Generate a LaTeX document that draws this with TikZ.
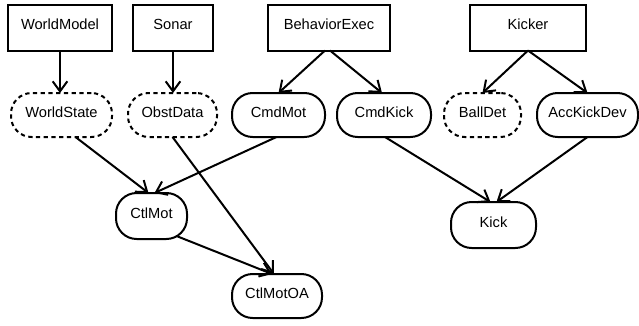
\documentclass[tikz,border=0pt]{standalone}
\usepackage{fontspec}
\setmainfont{Liberation Sans}
\usetikzlibrary{arrows.meta,calc}
\begin{document}
\begin{tikzpicture}[x=0.75pt,y=-0.75pt,
  base/.style={draw,line width=1.5pt,inner sep=0pt,outer sep=0pt,
    font=\fontsize{11}{13}\selectfont,text height=8pt,text depth=5pt},
  boxnode/.style={base,rectangle,minimum height=34.5pt},
  roundnode/.style={base,rectangle,rounded corners=15.5pt,minimum height=33pt},
  dashnode/.style={roundnode,dash pattern=on 3.2pt off 2.6pt},
  arr/.style={line width=1.5pt,-{Straight Barb[length=7.5pt,width=11pt,line width=1.5pt]}}]
\useasboundingbox (0,0) rectangle (639,325);
% top boxes
\node[boxnode,minimum width=78pt] (wm) at (60,27.5) {WorldModel};
\node[boxnode,minimum width=60pt] (sonar) at (173,27.5) {Sonar};
\node[boxnode,minimum width=91.5pt] (be) at (329,27.5) {BehaviorExec};
\node[boxnode,minimum width=87pt] (kicker) at (528,27.5) {Kicker};
% middle row
\node[dashnode,minimum width=75.75pt] (ws) at (61.5,115) {WorldState};
\node[dashnode,minimum width=66.75pt] (od) at (172.5,115) {ObstData};
\node[roundnode,minimum width=69.75pt] (cm) at (278.5,115) {CmdMot};
\node[roundnode,minimum width=70.5pt] (ck) at (384,115) {CmdKick};
\node[dashnode,minimum width=57.75pt] (bd) at (482.5,115) {BallDet};
\node[roundnode,minimum width=75.75pt] (akd) at (587.5,115) {AccKickDev};
% lower nodes
\node[roundnode,minimum width=53.25pt,minimum height=34.5pt] (ctl) at (151.5,216) {CtlMot};
\node[roundnode,minimum width=67.5pt] (oa) at (277,296) {CtlMotOA};
\node[roundnode,minimum width=63.75pt,minimum height=34.5pt] (kick) at (493.5,225) {Kick};
% connectors
\draw[arr] (wm.south) -- (wm.south |- ws.north);
\draw[arr] (sonar.south) -- (sonar.south |- od.north);
\draw[arr] ($(be.south)+(-4,0)$) -- (cm.north);
\draw[arr] ($(be.south)+(1,0)$) -- ($(ck.north)+(-2,0)$);
\draw[arr] (kicker.south) -- (bd.north);
\draw[arr] (kicker.south) -- (akd.north);
\draw[arr] ($(ws.south)+(14,0)$) -- ($(ctl.north)+(-3,0)$);
\draw[arr] ($(cm.south)+(-2,0)$) -- ($(ctl.north)+(3,0)$);
\draw[arr] (od.south) -- ($(oa.north)+(-3,0)$);
\draw[arr] ($(ctl.south)+(25,-3)$) -- ($(oa.north)+(-5,0)$);
\draw[arr] ($(ck.south)+(1,0)$) -- ($(kick.north)+(-3,0)$);
\draw[arr] (akd.south) -- ($(kick.north)+(3,0)$);
\end{tikzpicture}
\end{document}
